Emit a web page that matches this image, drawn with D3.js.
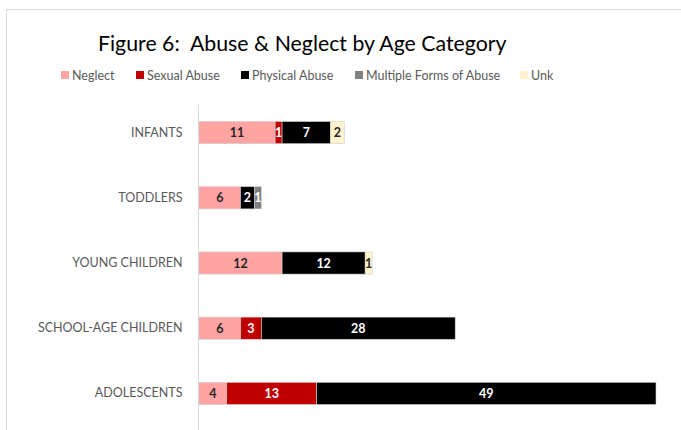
<!DOCTYPE html>
<html>
<head>
<meta charset="utf-8">
<script src="https://cdn.jsdelivr.net/npm/d3@7"></script>
<style>
  html, body { margin: 0; padding: 0; background: #fff; }
  svg { display: block; }
</style>
</head>
<body>
<svg id="chart" width="681" height="430"></svg>
<script>
// Age categories, top to bottom
const categories = ["INFANTS", "TODDLERS", "YOUNG CHILDREN", "SCHOOL-AGE CHILDREN", "ADOLESCENTS"];
// Abuse types (stack order, left to right)
const seriesNames = ["Neglect", "Sexual Abuse", "Physical Abuse", "Multiple Forms of Abuse", "Unk"];
const seriesColors = ["#ffa3a3", "#c00000", "#000000", "#808080", "#fff2cc"];
const labelColors = ["#262626", "#ffffff", "#ffffff", "#ffffff", "#262626"];
// Counts per series, one entry per category
const neglect = [11, 6, 12, 6, 4];
const sexualAbuse = [1, 0, 0, 3, 13];
const physicalAbuse = [7, 2, 12, 28, 49];
const multipleForms = [0, 1, 0, 0, 0];
const unknown = [2, 0, 1, 0, 0];
const xMax = 66;

const seriesValues = [neglect, sexualAbuse, physicalAbuse, multipleForms, unknown];
const rows = categories.map((c, i) => {
  const r = { category: c };
  seriesNames.forEach((s, j) => r[s] = seriesValues[j][i]);
  return r;
});
const stacked = d3.stack().keys(seriesNames)(rows);

const svg = d3.select("#chart");
const textFont = "Lato, 'Open Sans', sans-serif";

// Outer frame
svg.append("path")
  .attr("d", "M6.5,430 L6.5,9.5 L681,9.5")
  .attr("fill", "none")
  .attr("stroke", "#d9d9d9")
  .attr("stroke-width", 1);

// Title
svg.append("text")
  .attr("x", 98).attr("y", 51)
  .attr("font-family", textFont)
  .attr("font-size", 21.3)
  .attr("fill", "#000")
  .attr("xml:space", "preserve")
  .text("Figure 6:  Abuse & Neglect by Age Category");

// Legend
const legendX = [61, 136, 241, 355, 520];
const legend = svg.append("g");
seriesNames.forEach((s, i) => {
  legend.append("rect")
    .attr("x", legendX[i]).attr("y", 71)
    .attr("width", 8).attr("height", 8)
    .attr("fill", seriesColors[i]);
  legend.append("text")
    .attr("x", legendX[i] + 11).attr("y", 80)
    .attr("font-family", textFont)
    .attr("font-size", 12.5)
    .attr("fill", "#595959")
    .text(s);
});

// Scales
const x = d3.scaleLinear().domain([0, xMax]).range([199, 656]);
const y = d3.scaleBand().domain(categories).range([100, 426]).paddingInner(0.66).paddingOuter(0.33);

// Category axis
const yAxis = svg.append("g")
  .attr("transform", `translate(${x(0) - 0.5},0)`)
  .call(d3.axisLeft(y).tickSize(0).tickPadding(16));
yAxis.select(".domain").attr("stroke", "#d9d9d9").attr("d", "M0,105V430");
yAxis.selectAll("text")
  .attr("font-family", textFont)
  .attr("font-size", 12.5)
  .attr("fill", "#595959");

// Stacked bars
const layers = svg.append("g").selectAll("g")
  .data(stacked)
  .join("g")
  .attr("fill", (d, i) => seriesColors[i]);

layers.selectAll("rect")
  .data(d => d.filter(p => p[1] - p[0] > 0))
  .join("rect")
  .attr("x", d => x(d[0]))
  .attr("y", d => y(d.data.category))
  .attr("width", d => x(d[1]) - x(d[0]))
  .attr("height", y.bandwidth())
  .attr("stroke", "#cfcfcf")
  .attr("stroke-width", 0.6);

// Value labels
layers.each(function (layer, i) {
  d3.select(this).selectAll("text")
    .data(layer.filter(p => p[1] - p[0] > 0))
    .join("text")
    .attr("x", d => (x(d[0]) + x(d[1])) / 2)
    .attr("y", d => y(d.data.category) + y.bandwidth() / 2 + 4.5)
    .attr("text-anchor", "middle")
    .attr("font-family", textFont)
    .attr("font-weight", "bold")
    .attr("font-size", 12.5)
    .attr("fill", labelColors[i])
    .text(d => d[1] - d[0]);
});
</script>
</body>
</html>
